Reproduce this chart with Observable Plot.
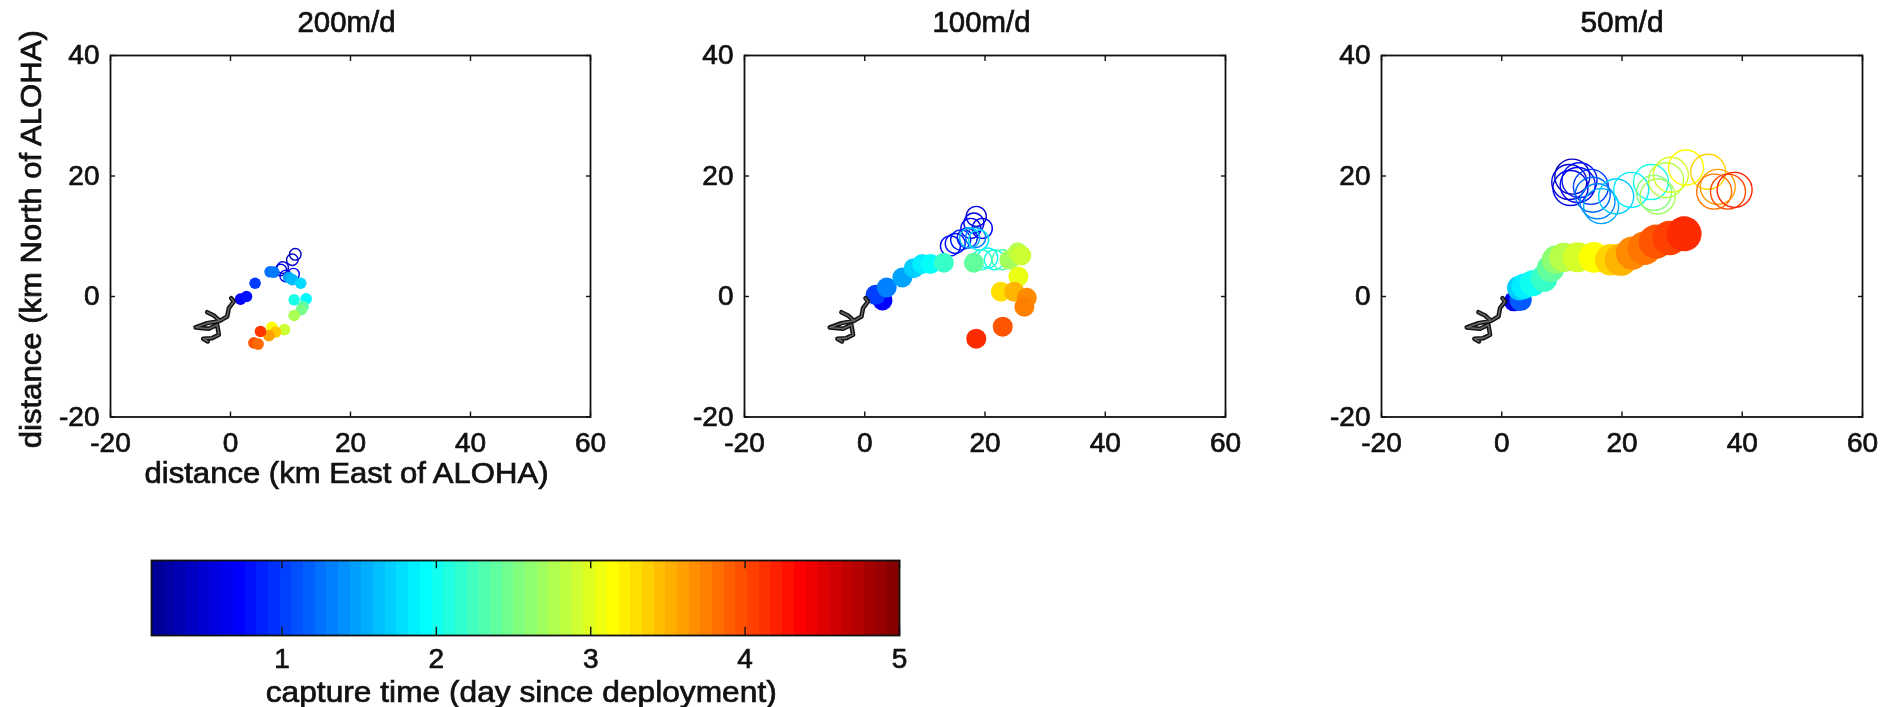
<!DOCTYPE html>
<html><head><meta charset="utf-8">
<script src="https://cdn.jsdelivr.net/npm/d3@7"></script>
<script src="https://cdn.jsdelivr.net/npm/@observablehq/plot@0.6"></script>
<style>
html,body{margin:0;padding:0;background:#fff;width:1886px;height:707px;overflow:hidden}
#root{position:relative;width:1886px;height:707px}
#root svg{position:absolute;overflow:visible;background:transparent;filter:blur(0.4px)}
</style></head><body><div id="root"></div>
<script>
const titles = ["200m/d","100m/d","50m/d"];
const xTicks = [-20,0,20,40,60];
const yTicks = [-20,0,20,40];
const barTicks = [1,2,3,4,5];
const xLabel = "distance (km East of ALOHA)";
const yLabel = "distance (km North of ALOHA)";
const barLabel = "capture time (day since deployment)";

// island track (km)
const trackX = [0.11,0.55,-0.28,-0.55,-1.78,-2.78,-3.89,-2.78,-1.78,-3.89,-5.83,-3.61,-2.22,-1.94,-3.06,-4.56,-3.78];
const trackY = [-0.28,-0.83,-1.93,-3.32,-4.04,-3.15,-2.6,-3.15,-4.04,-4.42,-5.14,-5.36,-4.7,-6.36,-6.91,-7.02,-7.46];

// 200 m/d
const fill1X = [1.67,2.67,4.1,6.6,7.2,9.7,10.3,11.7,12.6,10.6,12.1,11.8,10.6,9,6.9,7.5,6.4,5,3.9,4.6];
const fill1Y = [-0.44,0,2.2,4.1,4.05,3.15,2.8,2.2,-0.4,-0.55,-1.66,-2.2,-3.15,-5.5,-5.1,-5.9,-6.5,-5.8,-7.7,-7.9];
const fill1T = [0.72,0.8,1.0,1.25,1.3,1.5,1.6,1.75,1.9,2.05,2.35,2.5,2.75,2.9,3.14,3.4,3.6,4.1,3.95,3.85];
const open1X = [10.8,10.3,8.7,8.4,9.2,10.5];
const open1Y = [7,6.1,4.8,4.4,3.4,3.7];
const open1T = [0.4,0.45,0.55,0.6,0.65,0.7];

// 100 m/d
const fill2X = [2.95,1.8,3.65,6.25,8.15,9.55,10.95,13.15,18.15,24.05,25.45,26.05,25.55,22.65,24.85,26.95,26.55,22.95,18.55];
const fill2Y = [-0.66,0.28,1.5,3.15,4.7,5.4,5.4,5.6,5.6,6.1,7.3,6.8,3.3,0.8,0.8,-0.2,-1.7,-5,-7];
const fill2T = [0.72,1.02,1.33,1.5,1.7,1.85,1.95,2.2,2.4,2.7,2.8,2.9,3.05,3.3,3.5,3.7,3.75,3.95,4.15];
const open2X = [18.55,18.15,19.55,17.65,14.25,15.05,15.95,17.05,18.45,17.45,18.95,20.45,21.55,19.45,22.85];
const open2Y = [13.3,12.2,11.3,11.3,8.4,8.8,9.4,9.7,9.8,9.7,9.4,6.4,6.1,6.1,6.1];
const open2T = [0.55,0.6,0.65,0.7,0.75,0.8,0.85,0.9,1.3,1.6,1.8,1.9,2.05,2.15,2.3];

// 50 m/d
const fill3X = [2.0,3.13,2.93,3.73,5.13,7.03,8.13,9.03,10.33,12.63,15.33,18.13,19.83,21.73,23.73,25.63,27.93,30.33];
const fill3Y = [-0.8,-0.55,1.4,1.7,2.2,3,4.7,6.1,6.5,6.5,6.5,6.1,6.1,7.2,8,9.1,9.7,10.4];
const fill3T = [0.6,1.15,1.7,1.85,2,2.2,2.4,2.6,2.8,2.95,3.14,3.35,3.5,3.7,3.8,3.95,4.05,4.15];
const open3X = [11.73,11.23,11.43,12.63,12.93,14.83,15.13,15.93,16.53,19.03,21.53,24.83,25.93,25.33,27.33,28.13,30.63,34.33,35.93,35.33,37.63,38.73];
const open3Y = [19.9,19,18,18.5,19.3,18.2,16.9,15.8,15,16.6,17.7,19,16.6,17.2,19.3,20.2,21.4,20.7,18.2,17.4,17.4,17.7];
const open3T = [0.4,0.5,0.6,0.7,0.8,1,1.2,1.35,1.5,1.7,1.85,2.05,2.7,2.55,2.8,2.95,3.14,3.35,3.6,3.8,4.0,4.2];

// jet colormap stops on the capture-time axis
const jetDomain = [0.155,0.722,1.933,3.144,4.356,5];
const jetRange = ["#00008f","#0000ff","#00ffff","#ffff00","#ff0000","#800000"];
const barBands = 64;

const colorOpts = {type:"linear",domain:jetDomain,range:jetRange,interpolate:"rgb",clamp:true};
const font = "'Liberation Sans',Arial,sans-serif";
const tickFS = 28, labelFS = 29;
const ink = "#111";
const noText = () => "";

function pts(xs,ys,ts){return xs.map((x,i)=>({x,y:ys[i],t:ts[i]}));}

function panel(i,left,W,r,rFill,f,o,titleDx,first){
  const track = trackX.map((x,k)=>({x,y:trackY[k]}));
  const H = 361.5, mL = 110, mT = 55, mR = 24, mB = 90;
  const marks = [
    Plot.dot(pts(...o),{x:"x",y:"y",r,stroke:"t",strokeWidth:1.4,fill:"none",sort:null}),
    Plot.dot(pts(...f),{x:"x",y:"y",r:"t",fill:"t",stroke:"none",sort:null}),
    Plot.line(track,{x:"x",y:"y",stroke:"#111",strokeWidth:4.5,curve:"linear"}),
    Plot.line(track,{x:"x",y:"y",stroke:"#666",strokeWidth:1.6,curve:"linear"}),
    Plot.frame({stroke:ink,strokeWidth:1.8}),
    Plot.axisX({anchor:"bottom",ticks:xTicks,tickSize:-5,tickPadding:20.5,stroke:ink,strokeWidth:1.4,fontSize:tickFS,fill:ink,label:null,tickFormat:d=>String(d)}),
    Plot.axisX({anchor:"top",ticks:xTicks,tickSize:-5,stroke:ink,strokeWidth:1.4,tickFormat:noText,label:null}),
    Plot.axisY({anchor:"left",ticks:yTicks,tickSize:-5,tickPadding:16,stroke:ink,strokeWidth:1.4,fontSize:tickFS,fill:ink,label:null,tickFormat:d=>String(d)}),
    Plot.axisY({anchor:"right",ticks:yTicks,tickSize:-5,stroke:ink,strokeWidth:1.4,tickFormat:noText,label:null}),
    Plot.text([titles[i]],{frameAnchor:"top",lineAnchor:"middle",dy:-33,dx:titleDx,fontSize:labelFS,fill:ink})
  ];
  if(first){
    marks.push(Plot.text([xLabel],{frameAnchor:"bottom",lineAnchor:"middle",dy:56.5,dx:-4,fontSize:labelFS,fill:ink}));
    marks.push(Plot.text([yLabel],{frameAnchor:"left",lineAnchor:"middle",dx:-79,dy:3,rotate:-90,textAnchor:"middle",fontSize:labelFS,fill:ink}));
  }
  const svg = Plot.plot({
    width:mL+W+mR,height:mT+H+mB,
    marginLeft:mL,marginRight:mR,marginTop:mT,marginBottom:mB,
    style:{fontFamily:font,background:"transparent"},
    x:{domain:[-20,60],axis:null},y:{domain:[-20,40],axis:null},
    color:colorOpts,
    r:{type:"linear",domain:[0.6,4.15],range:rFill,clamp:true},
    marks
  });
  svg.style.left=(left-mL)+"px";svg.style.top="0px";
  return svg;
}

const root=document.getElementById("root");
root.append(panel(0,110,480,5.8,[5.8,5.8],[fill1X,fill1Y,fill1T],[open1X,open1Y,open1T],-4,true));
root.append(panel(1,744,481,10,[10,10],[fill2X,fill2Y,fill2T],[open2X,open2Y,open2T],-3.5,false));
root.append(panel(2,1381,481,17.5,[10,17.5],[fill3X,fill3Y,fill3T],[open3X,open3Y,open3T],0,false));

// colour bar
{
  const lo=jetDomain[0],hi=jetDomain[jetDomain.length-1],step=(hi-lo)/barBands;
  const bands=d3.range(barBands).map(k=>({a:lo+k*step,b:lo+(k+1)*step,m:lo+(k+0.5)*step}));
  const mL=40,mT=20,mR=40,mB=72,W=748,H=75;
  const svg=Plot.plot({
    width:mL+W+mR,height:mT+H+mB,marginLeft:mL,marginRight:mR,marginTop:mT,marginBottom:mB,
    style:{fontFamily:font,background:"transparent"},
    x:{domain:[lo,hi],axis:null},y:{domain:[0,1],axis:null},
    color:colorOpts,
    marks:[
      Plot.rect(bands,{x1:"a",x2:"b",y1:0,y2:1,fill:"m",shapeRendering:"crispEdges"}),
      Plot.ruleX(barTicks,{x:d=>d,y1:0,y2:0.11,stroke:ink,strokeWidth:1.4}),
      Plot.ruleX(barTicks,{x:d=>d,y1:0.89,y2:1,stroke:ink,strokeWidth:1.4}),
      Plot.frame({stroke:ink,strokeWidth:1.8}),
      Plot.axisX({anchor:"bottom",ticks:barTicks,tickSize:0,tickPadding:12.5,fontSize:tickFS,fill:ink,label:null,tickFormat:d=>String(d)}),
      Plot.text([barLabel],{x:2.55,frameAnchor:"bottom",lineAnchor:"middle",dy:57,fontSize:labelFS,fill:ink})
    ]
  });
  svg.style.left=(151.4-mL)+"px";svg.style.top=(560-mT)+"px";
  root.append(svg);
}

// printed widths of the long texts in the reference, and a slight weight
const targetWidths = new Map([
  [xLabel,404],[yLabel,418],[barLabel,511],
  [titles[0],98],[titles[1],98],[titles[2],83]
]);
root.querySelectorAll("text").forEach(t=>{
  const s=t.textContent;
  if(!s) return;
  t.setAttribute("stroke",ink);
  t.setAttribute("stroke-width","0.7");
  if(targetWidths.has(s)){
    t.setAttribute("textLength",targetWidths.get(s));
    t.setAttribute("lengthAdjust","spacingAndGlyphs");
  }
});
</script></body></html>
